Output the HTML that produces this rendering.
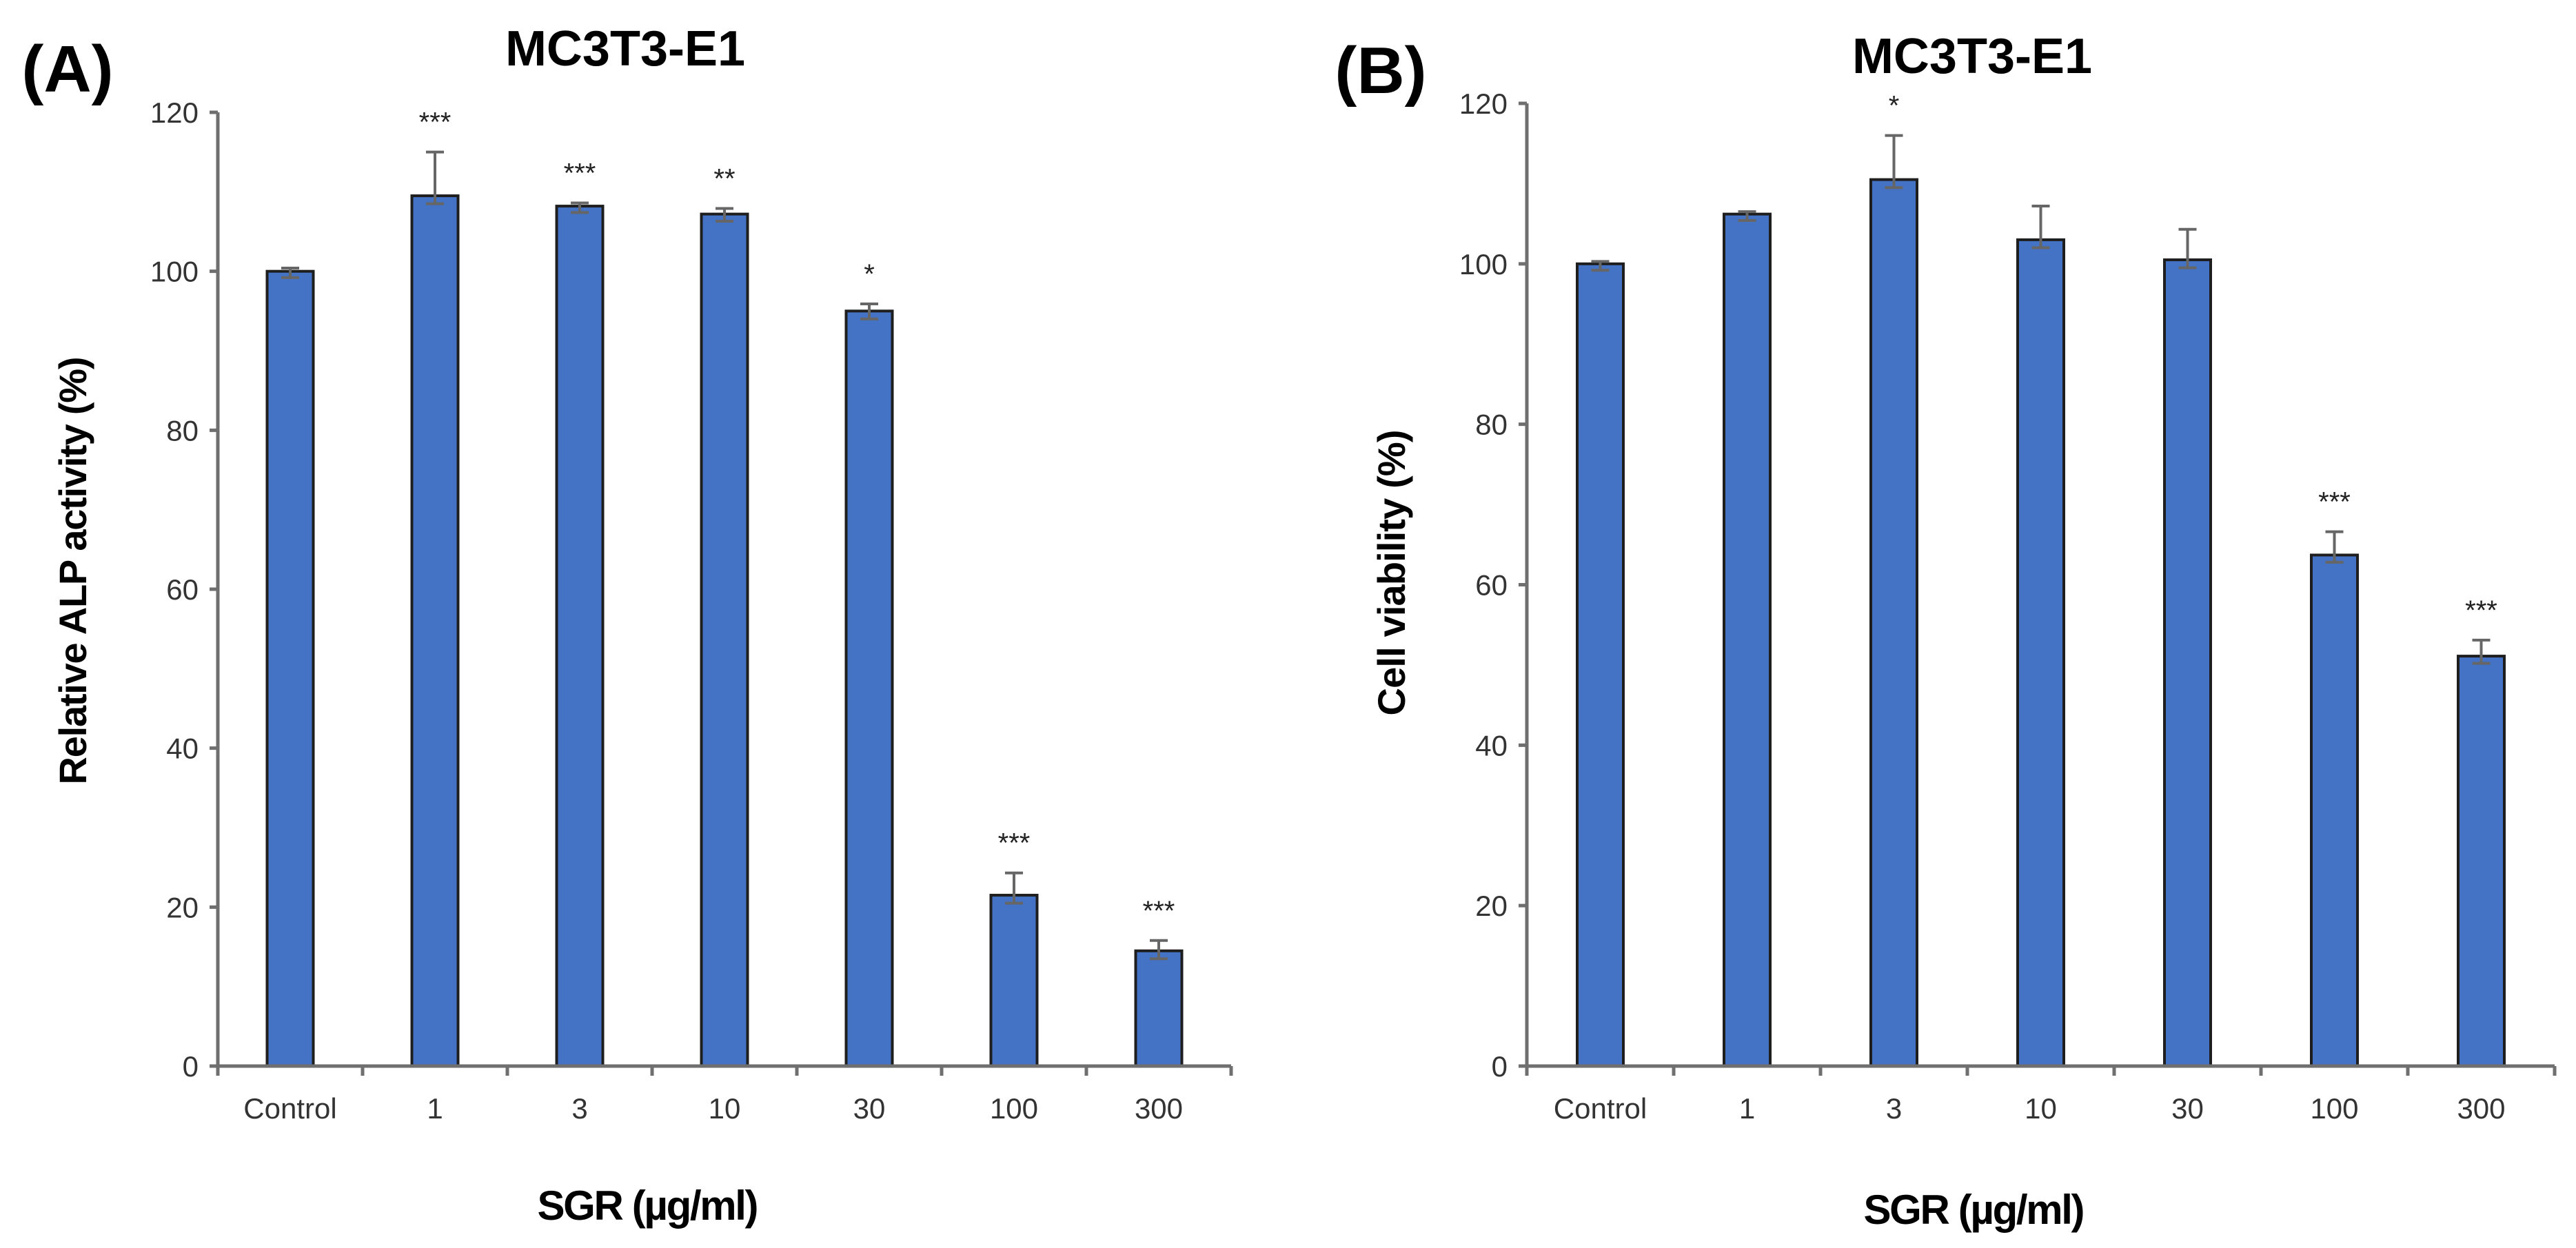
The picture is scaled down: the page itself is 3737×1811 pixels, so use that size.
<!DOCTYPE html>
<html><head><meta charset="utf-8"><style>
html,body{margin:0;padding:0;background:#fff;}
svg{display:block;font-family:"Liberation Sans",sans-serif;}
</style></head><body>
<svg id="fig" width="3737" height="1811" viewBox="0 0 3737 1811">
<text x="98" y="133" font-size="96" font-weight="bold" text-anchor="middle">(A)</text>
<text x="907" y="95" font-size="72" font-weight="bold" text-anchor="middle">MC3T3-E1</text>
<text x="940" y="1770" font-size="60" font-weight="bold" text-anchor="middle" textLength="321">SGR (µg/ml)</text>
<text transform="translate(125,828) rotate(-90)" font-size="56" font-weight="bold" text-anchor="middle" textLength="621">Relative ALP activity (%)</text>
<text x="2003" y="135" font-size="96" font-weight="bold" text-anchor="middle">(B)</text>
<text x="2861" y="106" font-size="72" font-weight="bold" text-anchor="middle">MC3T3-E1</text>
<text x="2864" y="1776" font-size="60" font-weight="bold" text-anchor="middle" textLength="321">SGR (µg/ml)</text>
<text transform="translate(2038,831) rotate(-90)" font-size="56" font-weight="bold" text-anchor="middle" textLength="415">Cell viability (%)</text>
</svg>
<script>
const categories = ["Control","1","3","10","30","100","300"];
const yTicks = [0,20,40,60,80,100,120];
const alpValues = [100,109.5,108.2,107.2,95,21.5,14.5];
const alpErrUp = [0.4,5.5,0.4,0.7,0.9,2.8,1.3];
const alpErrDown = [0.8,1.0,0.8,0.9,1.0,1.0,1.0];
const alpStars = ["","***","***","**","*","***","***"];
const viabValues = [100,106.2,110.5,103,100.5,63.7,51.1];
const viabErrUp = [0.3,0.3,5.5,4.2,3.8,2.9,2];
const viabErrDown = [0.8,0.8,1.0,1.0,1.0,0.9,0.9];
const viabStars = ["","","*","","","***","***"];

const NS = "http://www.w3.org/2000/svg";
const svg = document.getElementById("fig");
function mk(tag, attrs){const e=document.createElementNS(NS,tag);for(const k in attrs)e.setAttribute(k,attrs[k]);svg.appendChild(e);return e;}

function panel(p, ax0, y0, y120, step, values, errUp, errDown, stars){
  const yS = v => y0 - (v/120)*(y0-y120);
  const xC = i => ax0 + step*(i+0.5);
  const xEnd = ax0 + step*categories.length;
  const bw = 67;
  values.forEach((v,i)=>{
    const r = mk("rect",{x:xC(i)-bw/2,y:yS(v),width:bw,height:y0-yS(v),fill:"#4472C4",stroke:"#1e1e1e","stroke-width":4});
    
    
    const cx = xC(i), yt = yS(v+errUp[i]), yb = yS(v-errDown[i]);
    const eb = mk("path",{d:`M${cx} ${yt}V${yb}M${cx-13} ${yt}H${cx+13}M${cx-13} ${yb}H${cx+13}`,stroke:"#666","stroke-width":4,fill:"none"});
    
    
    if(stars[i]){
      const s = mk("text",{x:cx,y:yt-30,"font-size":40,"text-anchor":"middle",fill:"#222"});
      s.textContent = stars[i];
      
      
    }
    const t = mk("text",{x:cx,y:y0+76,"font-size":42,"text-anchor":"middle",fill:"#333"});
    t.textContent = categories[i];
    
    
  });
  const axis = mk("path",{d:`M${ax0} ${y120}V${y0}H${xEnd}`,stroke:"#6f6f6f","stroke-width":5,fill:"none"});
  
  
  let d="";
  for(let i=0;i<=categories.length;i++){const x=ax0+step*i; d+=`M${x} ${y0}V${y0+14}`;}
  yTicks.forEach(t=>{d+=`M${ax0-12} ${yS(t)}H${ax0}`;});
  const tk = mk("path",{d:d,stroke:"#6f6f6f","stroke-width":5,fill:"none"});
  
  
  yTicks.forEach(t=>{
    const l = mk("text",{x:ax0-28,y:yS(t)+15,"font-size":42,"text-anchor":"end",fill:"#333"});
    l.textContent = t;
    
    
  });
}
panel("panel-a",316,1547,163,210,alpValues,alpErrUp,alpErrDown,alpStars);
panel("panel-b",2215,1547,150,213,viabValues,viabErrUp,viabErrDown,viabStars);
</script>
</body></html>
